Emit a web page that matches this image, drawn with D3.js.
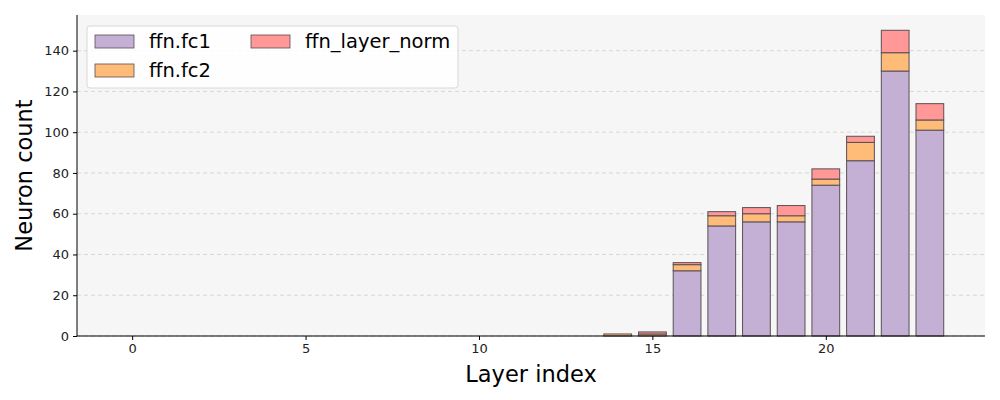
<!DOCTYPE html>
<html>
<head>
<meta charset="utf-8">
<script src="https://cdn.jsdelivr.net/npm/d3@7"></script>
<style>
  body { margin: 0; background: #fff; }
  text { font-family: "DejaVu Sans", sans-serif; }
</style>
</head>
<body>
<svg id="chart" width="1000" height="400"></svg>
<script>
let layers = d3.range(0, 24)
let fc1 = [0,0,0,0,0,0,0,0,0,0,0,0,0,0,0,0,32,54,56,56,74,86,130,101]
let fc2 = [0,0,0,0,0,0,0,0,0,0,0,0,0,0,1,1,3,5,4,3,3,9,9,5]
let layerNorm = [0,0,0,0,0,0,0,0,0,0,0,0,0,0,0,1,1,2,3,5,5,3,11,8]
let seriesNames = ["ffn.fc1", "ffn.fc2", "ffn_layer_norm"]
let colors = ["#c5b0d5", "#ffbb78", "#ff9896"]
let yTicks = [0, 20, 40, 60, 80, 100, 120, 140]
let xTicks = [0, 5, 10, 15, 20]

let margin = { left: 77, right: 15, top: 15, bottom: 64 }
let width = 1000, height = 400
let bodyWidth = width - margin.left - margin.right
let bodyHeight = height - margin.top - margin.bottom

let svg = d3.select("#chart")
let body = svg.append("g").attr("transform", `translate(${margin.left},${margin.top})`)

let table = layers.map((l, i) => ({ layer: l, "ffn.fc1": fc1[i], "ffn.fc2": fc2[i], "ffn_layer_norm": layerNorm[i] }))
let stacked = d3.stack().keys(seriesNames)(table)
let maxTotal = d3.max(table, d => d["ffn.fc1"] + d["ffn.fc2"] + d["ffn_layer_norm"])

let pad = (23.4 + 0.4) * 0.05
let xScale = d3.scaleLinear().domain([-0.4 - pad, 23.4 + pad]).range([0, bodyWidth])
let yScale = d3.scaleLinear().domain([0, maxTotal * 1.05]).range([bodyHeight, 0])

body.append("rect").attr("width", bodyWidth).attr("height", bodyHeight).attr("fill", "#f6f6f6")

// grid
body.selectAll(".grid").data(yTicks).join("line")
    .attr("x1", 0).attr("x2", bodyWidth)
    .attr("y1", d => yScale(d)).attr("y2", d => yScale(d))
    .attr("stroke", "#cfcfcf").attr("stroke-width", 0.8).attr("stroke-dasharray", "4,3")

// bars
let barW = xScale(0.8) - xScale(0)
stacked.forEach((s, k) => {
    body.append("g").selectAll("rect").data(s.filter(d => d[1] - d[0] > 0)).join("rect")
        .attr("x", d => xScale(d.data.layer - 0.4))
        .attr("width", barW)
        .attr("y", d => yScale(d[1]))
        .attr("height", d => yScale(d[0]) - yScale(d[1]))
        .attr("fill", colors[k])
        .attr("stroke", "#5a4f55").attr("stroke-width", 1)
})

// axes
let xAxis = body.append("g").attr("transform", `translate(0,${bodyHeight})`)
    .call(d3.axisBottom(xScale).tickValues(xTicks).tickSize(4).tickPadding(4))
let yAxis = body.append("g")
    .call(d3.axisLeft(yScale).tickValues(yTicks).tickSize(4).tickPadding(4))
;[xAxis, yAxis].forEach(a => {
    a.select(".domain").attr("stroke", "#000").attr("stroke-width", 1)
    a.selectAll(".tick line").attr("stroke", "#000")
    a.selectAll(".tick text").attr("font-size", 13).attr("fill", "#222").style("font-family", "DejaVu Sans")
})
xAxis.select(".domain").attr("d", `M0,0H${bodyWidth}`)
yAxis.select(".domain").attr("d", `M0,${bodyHeight}V0`)

svg.append("text").attr("x", margin.left + bodyWidth / 2).attr("y", 382)
    .attr("text-anchor", "middle").attr("font-size", 22.5).text("Layer index")
svg.append("text").attr("transform", `translate(32,${margin.top + bodyHeight / 2}) rotate(-90)`)
    .attr("text-anchor", "middle").attr("font-size", 22.5).text("Neuron count")

// legend
let legend = svg.append("g").attr("transform", "translate(87,26)")
legend.append("rect").attr("width", 371).attr("height", 62).attr("rx", 3)
    .attr("fill", "#fff").attr("fill-opacity", 0.85).attr("stroke", "#d8d8d8")
let legendPos = [[8, 8], [8, 37], [164, 8]]
seriesNames.forEach((name, k) => {
    let g = legend.append("g").attr("transform", `translate(${legendPos[k][0]},${legendPos[k][1]})`)
    g.append("rect").attr("width", 39).attr("height", 13).attr("y", 1)
        .attr("fill", colors[k]).attr("stroke", "#5a4f55").attr("stroke-width", 0.8)
    g.append("text").attr("x", 54).attr("y", 14).attr("font-size", 19.5).text(name)
})
</script>
</body>
</html>
